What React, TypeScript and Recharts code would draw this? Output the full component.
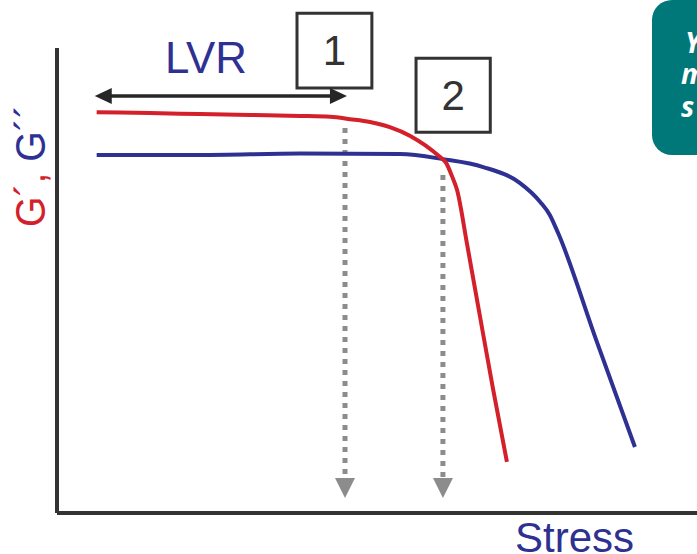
import React from "react";
import {
  ComposedChart,
  Line,
  XAxis,
  YAxis,
  ReferenceLine,
  ReferenceArea,
} from "recharts";

// stress (arbitrary units, 0..100) and moduli (0..100)
const gPrimeStress = [6.2, 14.5, 22.3, 30.2, 38.0, 42.7, 45.8, 48.9, 52.0, 55.2, 57.5, 59.8, 60.8, 61.7, 62.5, 64.1, 66.1, 68.1, 70.3];
const gPrime = [86.2, 86.0, 85.8, 85.6, 85.4, 85.2, 84.7, 84.1, 83.0, 81.1, 79.1, 76.6, 75.3, 72.5, 69.5, 57.6, 42.2, 26.9, 11.0];

const gDoublePrimeStress = [6.2, 22.3, 38.0, 53.6, 60.3, 66.6, 72.3, 75.5, 77.0, 78.3, 84.2, 90.3];
const gDoublePrime = [77.0, 77.0, 77.3, 77.2, 76.1, 74.4, 71.0, 66.9, 64.1, 60.2, 37.4, 14.2];

// annotations: LVR span, two onset markers
const lvrSpan = [5.9, 45.3];
const lvrLevel = 89.7;
const onsetStress = [45.0, 60.3];
const onsetFrom = [82.8, 72.7];
const onsetTo = 3.2;
const boxLabels = ["1", "2"];
const boxX = [[37.5, 49.2], [56.1, 67.7]];
const boxY = [[91.4, 107.5], [81.9, 97.8]];

const RED = "#d3202a";
const BLUE = "#2e3192";
const AXIS = "#333333";
const FONT = "'Liberation Sans', Arial, sans-serif";

const redData = gPrimeStress.map((x, i) => ({ x, y: gPrime[i] }));
const blueData = gDoublePrimeStress.map((x, i) => ({ x, y: gDoublePrime[i] }));

const DoubleArrow = (p: any) => {
  const { x1, y1, x2 } = p;
  const L = 17;
  const H = 8;
  return (
    <g>
      <line x1={x1 + L - 2} y1={y1} x2={x2 - L + 2} y2={y1} stroke="#262626" strokeWidth={3.5} />
      <polygon points={`${x1},${y1} ${x1 + L},${y1 - H} ${x1 + L},${y1 + H}`} fill="#262626" />
      <polygon points={`${x2},${y1} ${x2 - L},${y1 - H} ${x2 - L},${y1 + H}`} fill="#262626" />
    </g>
  );
};

const DottedArrow = (p: any) => {
  const { x1, y1, y2 } = p;
  const top = Math.min(y1, y2);
  const tip = Math.max(y1, y2);
  return (
    <g>
      <line x1={x1} y1={top} x2={x1} y2={tip - 18} stroke="#8c8c8c" strokeWidth={5} strokeDasharray="5 6" />
      <polygon points={`${x1 - 10},${tip - 20} ${x1 + 10},${tip - 20} ${x1},${tip}`} fill="#8c8c8c" />
    </g>
  );
};

export default function App() {
  return (
    <div style={{ position: "absolute", left: 0, top: 0, width: 697, height: 554, background: "#fff" }}>
      <ComposedChart
        width={697}
        height={554}
        margin={{ top: 48, right: 0, bottom: 39, left: 55 }}
      >
        <XAxis
          type="number"
          dataKey="x"
          domain={[0, 100]}
          height={2}
          tick={false}
          tickLine={false}
          axisLine={{ stroke: AXIS, strokeWidth: 4 }}
        />
        <YAxis
          type="number"
          dataKey="y"
          domain={[0, 100]}
          width={2}
          tick={false}
          tickLine={false}
          axisLine={{ stroke: AXIS, strokeWidth: 4 }}
        />
        {boxLabels.map((b, i) => (
          <ReferenceArea
            key={b}
            x1={boxX[i][0]}
            x2={boxX[i][1]}
            y1={boxY[i][0]}
            y2={boxY[i][1]}
            ifOverflow="visible"
            fill="#fff"
            fillOpacity={1}
            stroke={AXIS}
            strokeWidth={3}
            label={{ value: b, position: "center", fontSize: 42, fill: AXIS, fontFamily: FONT }}
          />
        ))}
        <ReferenceLine
          segment={[{ x: lvrSpan[0], y: lvrLevel }, { x: lvrSpan[1], y: lvrLevel }]}
          ifOverflow="visible"
          shape={DoubleArrow}
        />
        {onsetStress.map((s, i) => (
          <ReferenceLine
            key={i}
            segment={[{ x: s, y: onsetFrom[i] }, { x: s, y: onsetTo }]}
            ifOverflow="visible"
            shape={DottedArrow}
          />
        ))}
        <Line
          data={blueData}
          dataKey="y"
          type="monotone"
          stroke={BLUE}
          strokeWidth={4}
          dot={false}
          isAnimationActive={false}
        />
        <Line
          data={redData}
          dataKey="y"
          type="monotone"
          stroke={RED}
          strokeWidth={4}
          dot={false}
          isAnimationActive={false}
        />
      </ComposedChart>
      <svg
        width={697}
        height={554}
        style={{ position: "absolute", left: 0, top: 0, pointerEvents: "none" }}
      >
        <text x={165} y={73} fontSize={45} fill={BLUE} fontFamily={FONT} textLength={82} lengthAdjust="spacingAndGlyphs">
          LVR
        </text>
        <text x={515} y={552} fontSize={42} fill={BLUE} fontFamily={FONT}>
          Stress
        </text>
        <text
          x={45}
          y={166}
          fontSize={42}
          fontFamily={FONT}
          textAnchor="middle"
          transform="rotate(-90 45 166)"
          textLength={122}
          lengthAdjust="spacingAndGlyphs"
        >
          <tspan fill={RED}>G´, </tspan>
          <tspan fill={BLUE}>G´´</tspan>
        </text>
        <rect x={652} y={0} width={80} height={155} rx={20} fill="#00787a" />
        <g fill="#fff" fontFamily="'Open Sans', sans-serif" fontWeight={700} fontStyle="italic" fontSize={28}>
          <text x={685} y={53}>Y</text>
          <text x={681} y={84}>m</text>
          <text x={681} y={117}>s</text>
        </g>
      </svg>
    </div>
  );
}
